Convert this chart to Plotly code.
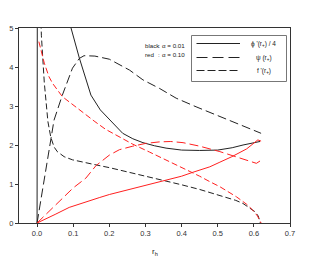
import plotly.graph_objects as go

# alpha = 0.01 (black)
phi_b_x = [0, 0.0008, 0.09, 0.094, 0.117, 0.149, 0.175, 0.205, 0.237, 0.265, 0.293, 0.325, 0.357, 0.4, 0.45, 0.5, 0.54, 0.57, 0.6, 0.617]
phi_b_y = [0, 6.5, 6.0, 5.0, 4.23, 3.28, 2.9, 2.6, 2.30, 2.16, 2.06, 1.98, 1.92, 1.87, 1.86, 1.87, 1.93, 2.0, 2.06, 2.09]

psi_b_x = [0, 0.024, 0.047, 0.07, 0.098, 0.117, 0.13, 0.16, 0.2, 0.256, 0.293, 0.339, 0.385, 0.44, 0.496, 0.533, 0.58, 0.62]
psi_b_y = [0, 1.32, 2.64, 3.28, 3.97, 4.22, 4.29, 4.28, 4.2, 3.92, 3.67, 3.45, 3.2, 2.98, 2.77, 2.64, 2.47, 2.3]

fp_b_x = [0.009, 0.012, 0.02, 0.03, 0.038, 0.047, 0.056, 0.075, 0.098, 0.13, 0.163, 0.2, 0.228, 0.265, 0.311, 0.35, 0.4, 0.45, 0.5, 0.55, 0.57, 0.59, 0.603, 0.612, 0.618]
fp_b_y = [5.6, 4.8, 3.6, 2.6, 2.2, 1.95, 1.83, 1.7, 1.62, 1.55, 1.49, 1.42, 1.36, 1.28, 1.19, 1.1, 0.98, 0.86, 0.72, 0.58, 0.5, 0.38, 0.29, 0.18, 0.0]

# alpha = 0.10 (red)
phi_r_x = [0, 0.02, 0.05, 0.089, 0.13, 0.172, 0.2, 0.265, 0.339, 0.4, 0.431, 0.478, 0.506, 0.539, 0.58, 0.611, 0.62]
phi_r_y = [0, 0.08, 0.22, 0.40, 0.53, 0.65, 0.73, 0.88, 1.06, 1.2, 1.3, 1.44, 1.56, 1.7, 1.9, 2.13, 2.1]

psi_r_x = [0, 0.05, 0.1, 0.135, 0.163, 0.2, 0.228, 0.265, 0.3, 0.339, 0.37, 0.404, 0.45, 0.506, 0.55, 0.58, 0.607, 0.622]
psi_r_y = [0, 0.45, 0.9, 1.15, 1.47, 1.74, 1.88, 1.97, 2.04, 2.08, 2.09, 2.06, 1.97, 1.83, 1.7, 1.62, 1.53, 1.62]

fp_r_x = [0.005, 0.02, 0.033, 0.043, 0.07, 0.1, 0.13, 0.16, 0.19, 0.228, 0.265, 0.311, 0.35, 0.4, 0.45, 0.478, 0.506, 0.552, 0.58, 0.597, 0.61, 0.62]
fp_r_y = [4.65, 4.1, 3.75, 3.58, 3.24, 3.02, 2.8, 2.6, 2.4, 2.2, 2.02, 1.82, 1.65, 1.42, 1.2, 1.06, 0.93, 0.67, 0.48, 0.33, 0.18, 0.0]

x_ticks = [0.0, 0.1, 0.2, 0.3, 0.4, 0.5, 0.6, 0.7]
y_ticks = [0, 1, 2, 3, 4, 5]

legend_names = ["\u03d5 '(r<sub>+</sub>) / 4", "\u03c8 (r<sub>+</sub>)", "f '(r<sub>+</sub>)"]
legend_dashes = ["solid", "11px,5px", "8px,3px"]

BLACK = "#222222"
RED = "#ff2020"
LONG = "9px,4px"
SHORT = "6px,3px"
FONT = "Liberation Sans, Arial, sans-serif"

# page offset from default body margin
OFF = 8
W, H = 316 - OFF, 261 - OFF
# plot-area geometry in screenshot pixels
L, R, T, B = 19, 290, 28, 223
def px(x): return (x - L) / (R - L)
def py(y): return (B - y) / (B - T)

fig = go.Figure()

def add(x, y, color, dash):
    fig.add_trace(go.Scatter(x=x, y=y, mode="lines", showlegend=False,
                             line=dict(color=color, width=1, dash=dash)))

add(phi_b_x, phi_b_y, BLACK, "solid")
add(psi_b_x, psi_b_y, BLACK, LONG)
add(fp_b_x, fp_b_y, BLACK, SHORT)
add(phi_r_x, phi_r_y, RED, "solid")
add(psi_r_x, psi_r_y, RED, LONG)
add(fp_r_x, fp_r_y, RED, SHORT)

# legend box
fig.add_shape(type="rect", xref="paper", yref="paper",
              x0=px(191.5), x1=px(286.5), y0=py(81.5), y1=py(35.5),
              line=dict(color="#777", width=1), fillcolor="white", layer="above")
for i, (name, dash) in enumerate(zip(legend_names, legend_dashes)):
    yy = [43.5, 57.5, 70.5][i]
    fig.add_shape(type="line", xref="paper", yref="paper",
                  x0=px(196.5), x1=px(240), y0=py(yy), y1=py(yy),
                  line=dict(color=BLACK, width=1, dash=dash), layer="above")
    fig.add_annotation(text=name, xref="paper", yref="paper",
                       x=px(263.5), y=py(yy), xanchor="center", yanchor="middle",
                       showarrow=False, font=dict(size=6.5, color="#222", family=FONT))

def note(text, x, y):
    fig.add_annotation(text=text, xref="paper", yref="paper", x=px(x), y=py(y),
                       xanchor="left", yanchor="middle", showarrow=False,
                       font=dict(size=6.2, color="#222", family=FONT))

note("black", 142.5, 45)
note(":", 155.5, 45)
note("\u03b1 = 0.01", 159.5, 45)
note("red", 142.5, 55)
note(":", 155.5, 55)
note("\u03b1 = 0.10", 159.5, 55)

# x-axis title
fig.add_annotation(text="r<sub>h</sub>", xref="paper", yref="paper",
                   x=px(155), y=py(252), xanchor="center", yanchor="middle",
                   showarrow=False, font=dict(size=8, color="#222", family=FONT))

axis_common = dict(showline=True, linecolor="#333", linewidth=1, mirror=True,
                   ticks="outside", ticklen=3, tickcolor="#333", showgrid=False,
                   zeroline=False, automargin=False,
                   tickfont=dict(size=7.5, color="#333", family=FONT))

fig.update_layout(
    width=W, height=H,
    margin=dict(l=L - OFF, r=W - (R - OFF), t=T - OFF, b=H - (B - OFF)),
    paper_bgcolor="white", plot_bgcolor="white",
    font=dict(family=FONT, size=7, color="#222"),
    showlegend=False,
    xaxis=dict(range=[-0.05, 0.7], tickvals=x_ticks, tickformat=".1f", **axis_common),
    yaxis=dict(range=[0, 5], tickvals=y_ticks, **axis_common),
)

fig.write_html("out.html")
